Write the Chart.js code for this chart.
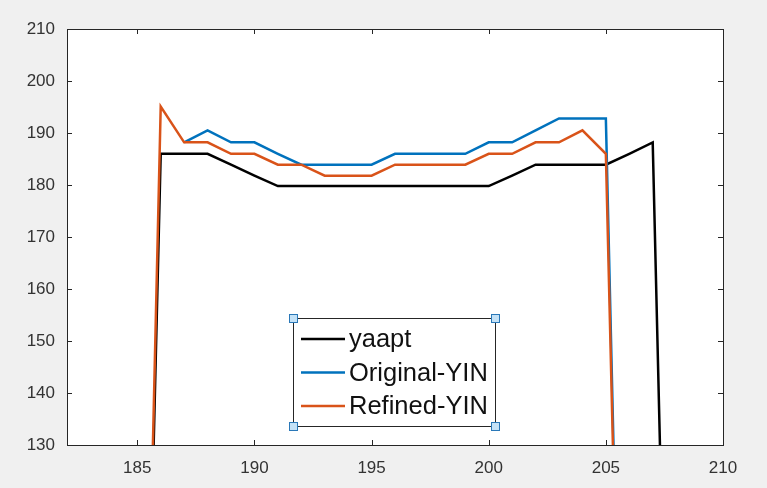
<!DOCTYPE html>
<html>
<head>
<meta charset="utf-8">
<script src="https://cdn.jsdelivr.net/npm/chart.js@4/dist/chart.umd.min.js"></script>
<style>
  html, body { margin: 0; padding: 0; background: #f0f0f0; }
  #wrap { width: 767px; height: 488px; position: relative; }
</style>
</head>
<body>
<div id="wrap"><canvas id="chart"></canvas></div>
<script>
// frame index along x
const frames = [185, 186, 187, 188, 189, 190, 191, 192, 193, 194, 195, 196,
                197, 198, 199, 200, 201, 202, 203, 204, 205, 206, 207, 208];

// pitch estimates (Hz), null where a tracker gave nothing
const yaapt = [0, 186.0, 186.0, 186.0, 183.9, 181.8, 179.8, 179.8, 179.8, 179.8, 179.8, 179.8,
               179.8, 179.8, 179.8, 179.8, 181.8, 183.9, 183.9, 183.9, 183.9, 186.0, 188.2, 0];
const originalYin = [null, null, 188.2, 190.5, 188.2, 188.2, 186.0, 183.9, 183.9, 183.9, 183.9, 186.0,
                     186.0, 186.0, 186.0, 188.2, 188.2, 190.5, 192.8, 192.8, 192.8, 0, null, null];
const refinedYin = [0, 195.1, 188.2, 188.2, 186.0, 186.0, 183.9, 183.9, 181.8, 181.8, 181.8, 183.9,
                    183.9, 183.9, 183.9, 186.0, 186.0, 188.2, 188.2, 190.5, 186.0, 0, null, null];

const seriesNames = ['yaapt', 'Original-YIN', 'Refined-YIN'];
const seriesColors = ['#000000', '#0072BD', '#D95319'];

const xTicks = [185, 190, 195, 200, 205, 210];
const yTicks = [130, 140, 150, 160, 170, 180, 190, 200, 210];

const AXIS_COLOR = '#262626';
const TICK_LEN = 5;

function toPoints(values) {
    return frames.map((f, i) => ({ x: f, y: values[i] }));
}

// white plot area, box outline and inward ticks on all four sides
const axesBox = {
    id: 'axesBox',
    beforeDatasetsDraw(chart) {
        const { ctx, chartArea: a } = chart;
        ctx.save();
        ctx.fillStyle = '#ffffff';
        ctx.fillRect(a.left, a.top, a.right - a.left, a.bottom - a.top);
        ctx.restore();
    },
    afterDatasetsDraw(chart) {
        const { ctx, chartArea: a, scales } = chart;
        ctx.save();
        ctx.strokeStyle = AXIS_COLOR;
        ctx.lineWidth = 1;
        ctx.beginPath();
        xTicks.forEach(v => {
            const px = Math.round(scales.x.getPixelForValue(v)) + 0.5;
            ctx.moveTo(px, a.bottom); ctx.lineTo(px, a.bottom - TICK_LEN);
            ctx.moveTo(px, a.top); ctx.lineTo(px, a.top + TICK_LEN);
        });
        yTicks.forEach(v => {
            const py = Math.round(scales.y.getPixelForValue(v)) + 0.5;
            ctx.moveTo(a.left, py); ctx.lineTo(a.left + TICK_LEN, py);
            ctx.moveTo(a.right, py); ctx.lineTo(a.right - TICK_LEN, py);
        });
        ctx.stroke();
        ctx.strokeRect(Math.round(a.left) + 0.5, Math.round(a.top) + 0.5,
                       Math.round(a.right - a.left), Math.round(a.bottom - a.top));
        ctx.restore();
    }
};

// boxed legend inside the axes, with selection handles on the corners
const boxLegend = {
    id: 'boxLegend',
    afterDraw(chart) {
        const { ctx, chartArea: a } = chart;
        const left = a.left + 226, top = a.top + 289;
        const w = 202, h = 108;
        ctx.save();
        ctx.fillStyle = '#ffffff';
        ctx.fillRect(left, top, w, h);
        ctx.strokeStyle = AXIS_COLOR;
        ctx.lineWidth = 1;
        ctx.strokeRect(left + 0.5, top + 0.5, w, h);

        ctx.font = '25.5px "Liberation Sans", Arial, sans-serif';
        ctx.textBaseline = 'middle';
        ctx.textAlign = 'left';
        seriesNames.forEach((name, i) => {
            const y = top + 21 + i * 33.5;
            ctx.strokeStyle = seriesColors[i];
            ctx.lineWidth = 2.5;
            ctx.beginPath();
            ctx.moveTo(left + 8, y);
            ctx.lineTo(left + 52, y);
            ctx.stroke();
            ctx.fillStyle = '#111111';
            ctx.fillText(name, left + 56, y + 1);
        });

        ctx.lineWidth = 1;
        ctx.fillStyle = '#c4e2f7';
        ctx.strokeStyle = '#2a78b8';
        [[left, top], [left + w, top], [left, top + h], [left + w, top + h]].forEach(([cx, cy]) => {
            ctx.fillRect(cx - 4, cy - 4, 9, 9);
            ctx.strokeRect(cx - 4 + 0.5, cy - 4 + 0.5, 8, 8);
        });
        ctx.restore();
    }
};

const lists = [yaapt, originalYin, refinedYin];

new Chart(document.getElementById('chart'), {
    type: 'line',
    data: {
        datasets: lists.map((vals, i) => ({
            label: seriesNames[i],
            data: toPoints(vals),
            borderColor: seriesColors[i],
            backgroundColor: seriesColors[i],
            borderWidth: 2.5,
            pointRadius: 0,
            tension: 0,
            spanGaps: false,
            order: lists.length - i
        }))
    },
    options: {
        responsive: true,
        maintainAspectRatio: false,
        animation: false,
        devicePixelRatio: 1,
        layout: { padding: { top: 29, right: 44, left: 0, bottom: 0 } },
        plugins: { legend: { display: false }, tooltip: { enabled: false } },
        scales: {
            x: {
                type: 'linear',
                min: 182,
                max: 210,
                afterBuildTicks: s => { s.ticks = xTicks.map(v => ({ value: v })); },
                afterFit: s => { s.height = 43; },
                grid: { display: false, drawTicks: false },
                border: { display: false },
                ticks: {
                    color: '#333333',
                    padding: 13,
                    maxRotation: 0,
                    font: { family: '"Liberation Sans", Arial, sans-serif', size: 17 }
                }
            },
            y: {
                type: 'linear',
                min: 130,
                max: 210,
                afterBuildTicks: s => { s.ticks = yTicks.map(v => ({ value: v })); },
                afterFit: s => { s.width = 67; },
                grid: { display: false, drawTicks: false },
                border: { display: false },
                ticks: {
                    color: '#333333',
                    padding: 12,
                    font: { family: '"Liberation Sans", Arial, sans-serif', size: 17 }
                }
            }
        }
    },
    plugins: [axesBox, boxLegend]
});
</script>
</body>
</html>
